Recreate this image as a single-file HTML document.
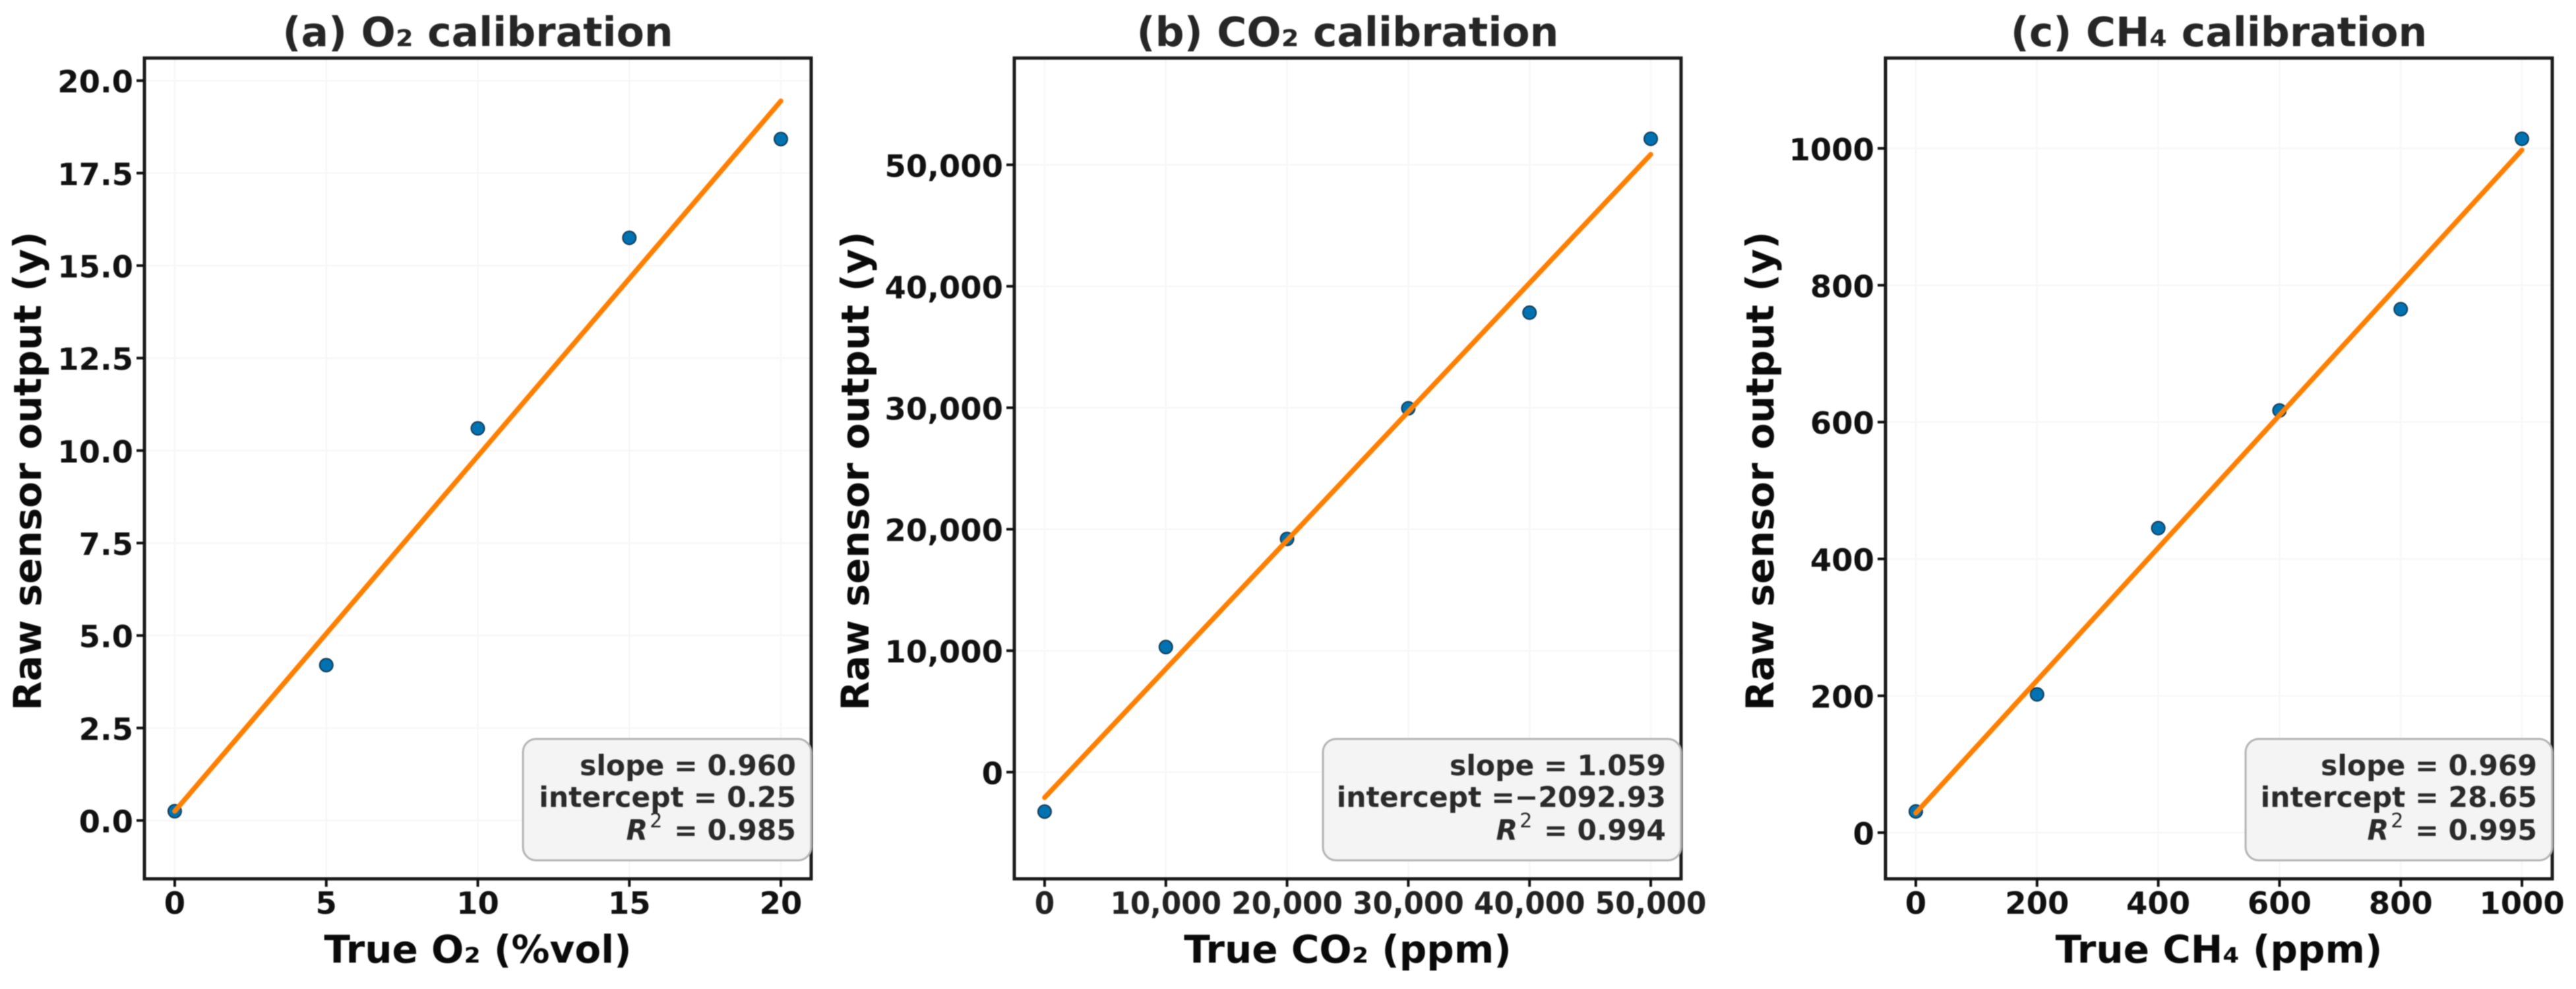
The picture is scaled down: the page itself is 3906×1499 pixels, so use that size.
<!DOCTYPE html>
<html lang="en">
<head>
<meta charset="utf-8">
<title>Gas sensor calibration</title>
<style>
html,body{margin:0;padding:0;background:#fff;width:3906px;height:1499px;overflow:hidden}
svg{display:block;filter:blur(0.7px)}
text{font-family:"DejaVu Sans","Liberation Sans",sans-serif;font-weight:bold}
</style>
</head>
<body>
<svg id="figure" xmlns="http://www.w3.org/2000/svg" width="3906" height="1499" viewBox="0 0 3906 1499"></svg>
<script>
const o2True = [0, 5, 10, 15, 20];
const o2Raw = [0.25, 4.2, 10.6, 15.75, 18.42];
const o2Slope = 0.960;
const o2Intercept = 0.25;
const o2XTicks = [0, 5, 10, 15, 20];
const o2XTickLabels = ["0", "5", "10", "15", "20"];
const o2YTicks = [0, 2.5, 5, 7.5, 10, 12.5, 15, 17.5, 20];
const o2YTickLabels = ["0.0", "2.5", "5.0", "7.5", "10.0", "12.5", "15.0", "17.5", "20.0"];
const o2Stats = ["slope = 0.960", "intercept = 0.25", " = 0.985"];

const co2True = [0, 10000, 20000, 30000, 40000, 50000];
const co2Raw = [-3250, 10300, 19200, 29950, 37830, 52140];
const co2Slope = 1.059;
const co2Intercept = -2092.93;
const co2XTicks = [0, 10000, 20000, 30000, 40000, 50000];
const co2XTickLabels = ["0", "10,000", "20,000", "30,000", "40,000", "50,000"];
const co2YTicks = [0, 10000, 20000, 30000, 40000, 50000];
const co2YTickLabels = ["0", "10,000", "20,000", "30,000", "40,000", "50,000"];
const co2Stats = ["slope = 1.059", "intercept =\u22122092.93", " = 0.994"];

const ch4True = [0, 200, 400, 600, 800, 1000];
const ch4Raw = [31, 202, 445, 617, 765, 1014];
const ch4Slope = 0.969;
const ch4Intercept = 28.65;
const ch4XTicks = [0, 200, 400, 600, 800, 1000];
const ch4XTickLabels = ["0", "200", "400", "600", "800", "1000"];
const ch4YTicks = [0, 200, 400, 600, 800, 1000];
const ch4YTickLabels = ["0", "200", "400", "600", "800", "1000"];
const ch4Stats = ["slope = 0.969", "intercept = 28.65", " = 0.995"];

const NS = "http://www.w3.org/2000/svg";
const figure = document.getElementById("figure");

function make(tag, parent, attrs) {
  const el = document.createElementNS(NS, tag);
  for (const k in attrs) el.setAttribute(k, attrs[k]);
  parent.appendChild(el);
  return el;
}

function drawPanel(p) {
  const top = 88, bottom = 1332;
  const xScale = v => p.left + (v - p.xMin) / (p.xMax - p.xMin) * (p.right - p.left);
  const yScale = v => bottom - (v - p.yMin) / (p.yMax - p.yMin) * (bottom - top);

  const g = make("g", figure, {});
  
  

  const bg = make("rect", g, {x: p.left, y: top, width: p.right - p.left, height: bottom - top, fill: "#fff"});
  
  

  p.xTicks.forEach((v, i) => {
    const grid = make("line", g, {x1: xScale(v), x2: xScale(v), y1: top, y2: bottom, stroke: "#f7f7f7", "stroke-width": 2.5});
    
    
  });
  p.yTicks.forEach((v, i) => {
    const grid = make("line", g, {x1: p.left, x2: p.right, y1: yScale(v), y2: yScale(v), stroke: "#f7f7f7", "stroke-width": 2.5});
    
    
  });

  p.xVals.forEach((v, i) => {
    const pt = make("circle", g, {cx: xScale(v), cy: yScale(p.yVals[i]), r: 10, fill: "#0072B2", stroke: "#123a52", "stroke-width": 2});
    
    
  });

  const x0 = p.xVals[0], x1 = p.xVals[p.xVals.length - 1];
  const fit = make("line", g, {
    x1: xScale(x0), y1: yScale(p.slope * x0 + p.intercept),
    x2: xScale(x1), y2: yScale(p.slope * x1 + p.intercept),
    stroke: "#FF7F00", "stroke-width": 7.5, "stroke-linecap": "round"
  });
  
  

  const frame = make("rect", g, {x: p.left, y: top, width: p.right - p.left, height: bottom - top, fill: "none", stroke: "#1c1c1c", "stroke-width": 5});
  
  

  p.xTicks.forEach((v, i) => {
    const tick = make("line", g, {x1: xScale(v), x2: xScale(v), y1: bottom, y2: bottom + 12, stroke: "#111", "stroke-width": 4});
    
    
    const label = make("text", g, {x: 0, y: 0, "font-size": 46.5, "text-anchor": "middle", fill: p.xTickFill, transform: "translate(" + xScale(v) + " 1385) scale(" + p.xTickStretch + " 1)"});
    label.textContent = p.xTickLabels[i];
    
    
  });
  p.yTicks.forEach((v, i) => {
    const tick = make("line", g, {x1: p.left - 12, x2: p.left, y1: yScale(v), y2: yScale(v), stroke: "#111", "stroke-width": 4});
    
    
    const label = make("text", g, {x: p.left - 17, y: yScale(v) + 18, "font-size": 46.5, "text-anchor": "end", fill: "#111"});
    label.textContent = p.yTickLabels[i];
    
    
  });

  const title = make("text", g, {x: (p.left + p.right) / 2, y: 70, "font-size": 61.5, "text-anchor": "middle", fill: "#262626"});
  title.textContent = p.title;
  
  

  const xTitle = make("text", g, {x: (p.left + p.right) / 2, y: 1459, "font-size": 58, "text-anchor": "middle", fill: "#0a0a0a"});
  xTitle.textContent = p.xLabel;
  
  

  const yTitle = make("text", g, {x: 0, y: 0, "font-size": 58, "text-anchor": "middle", fill: "#0a0a0a", transform: "translate(" + p.yLabelX + " 714) rotate(-90)"});
  yTitle.textContent = "Raw sensor output (y)";
  
  

  const box = make("rect", g, {x: p.boxLeft, y: 1120, width: p.right - p.boxLeft, height: 184, rx: 20, ry: 20, fill: "#f3f3f3", "fill-opacity": 0.93, stroke: "#b4b4b4", "stroke-width": 3});
  
  

  const tx = p.right - 23;
  const slopeText = make("text", g, {x: tx, y: 1175, "font-size": 42.5, "text-anchor": "end", fill: "#2a2a2a"});
  slopeText.textContent = p.stats[0];
  
  

  const interceptText = make("text", g, {x: tx, y: 1223, "font-size": 42.5, "text-anchor": "end", fill: "#2a2a2a"});
  interceptText.textContent = p.stats[1];
  
  

  const r2Text = make("text", g, {x: tx, y: 1273, "font-size": 42.5, "text-anchor": "end", fill: "#2a2a2a", "xml:space": "preserve"});
  
  
  const rPart = make("tspan", r2Text, {"font-style": "italic"});
  rPart.textContent = "R";
  const supPart = make("tspan", r2Text, {dy: -19, dx: 3, "font-size": 30, "font-weight": "normal"});
  supPart.textContent = "2";
  const valPart = make("tspan", r2Text, {dy: 19, dx: 3});
  valPart.textContent = p.stats[2];
}

drawPanel({
  key: "o2", title: "(a) O\u2082 calibration", xLabel: "True O\u2082 (%vol)",
  left: 219, right: 1230, xMin: -1, xMax: 21, yMin: -1.577, yMax: 20.61,
  yLabelX: 62, boxLeft: 793, xTickStretch: 1, xTickFill: "#111",
  xVals: o2True, yVals: o2Raw, slope: o2Slope, intercept: o2Intercept,
  xTicks: o2XTicks, xTickLabels: o2XTickLabels, yTicks: o2YTicks, yTickLabels: o2YTickLabels, stats: o2Stats
});
drawPanel({
  key: "co2", title: "(b) CO\u2082 calibration", xLabel: "True CO\u2082 (ppm)",
  left: 1538, right: 2549, xMin: -2500, xMax: 52500, yMin: -8783, yMax: 58789,
  yLabelX: 1317, boxLeft: 2006, xTickStretch: 0.94, xTickFill: "#222",
  xVals: co2True, yVals: co2Raw, slope: co2Slope, intercept: co2Intercept,
  xTicks: co2XTicks, xTickLabels: co2XTickLabels, yTicks: co2YTicks, yTickLabels: co2YTickLabels, stats: co2Stats
});
drawPanel({
  key: "ch4", title: "(c) CH\u2084 calibration", xLabel: "True CH\u2084 (ppm)",
  left: 2859, right: 3870, xMin: -50, xMax: 1050, yMin: -67.5, yMax: 1132,
  yLabelX: 2689, boxLeft: 3405, xTickStretch: 1, xTickFill: "#111",
  xVals: ch4True, yVals: ch4Raw, slope: ch4Slope, intercept: ch4Intercept,
  xTicks: ch4XTicks, xTickLabels: ch4XTickLabels, yTicks: ch4YTicks, yTickLabels: ch4YTickLabels, stats: ch4Stats
});
</script>
</body>
</html>
